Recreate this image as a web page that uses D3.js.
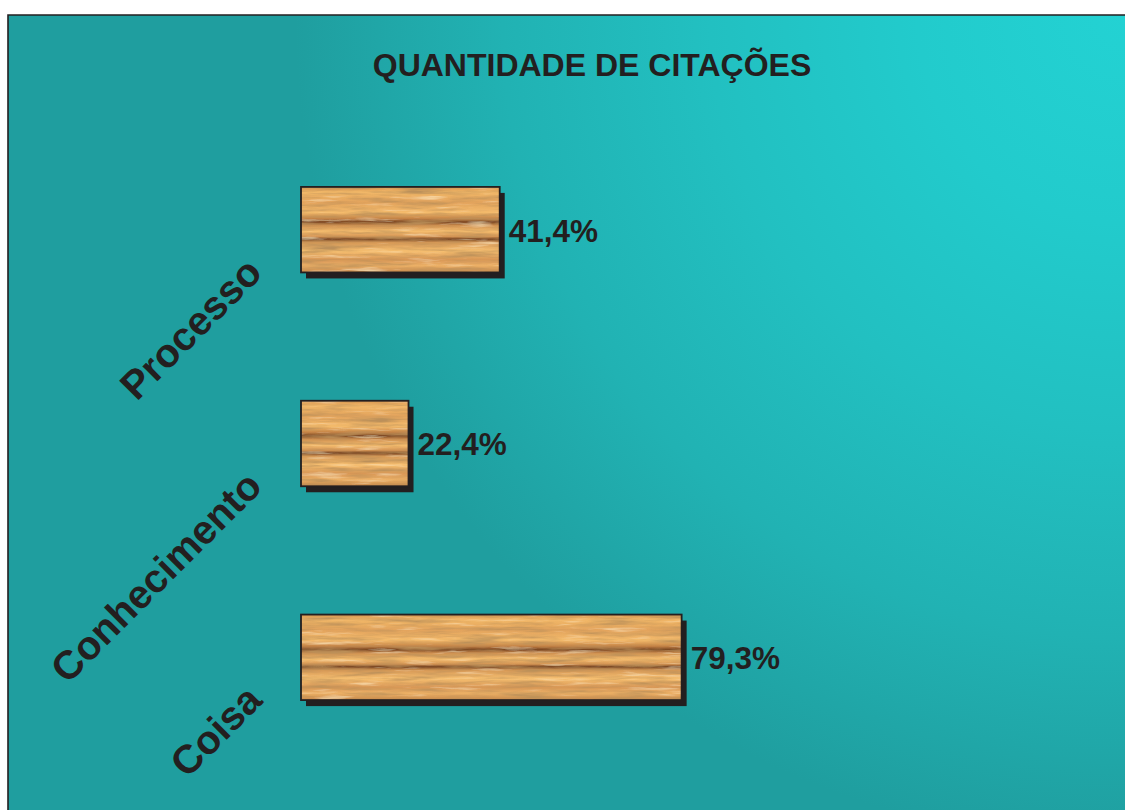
<!DOCTYPE html>
<html>
<head>
<meta charset="utf-8">
<script src="https://cdn.jsdelivr.net/npm/d3@7"></script>
<style>
  html, body { margin: 0; padding: 0; background: #fff; }
  svg { display: block; }
  text { font-family: "Liberation Sans", Arial, sans-serif; font-weight: bold; fill: #231f20; }
</style>
</head>
<body>
<div id="chart"></div>
<script>
const title = 'QUANTIDADE DE CITAÇÕES';
const categories = ['Processo', 'Conhecimento', 'Coisa'];
const values = [41.4, 22.4, 79.3];
const valueLabels = ['41,4%', '22,4%', '79,3%'];

const W = 1125, H = 810;

const svg = d3.select('#chart')
  .append('svg')
  .attr('width', W)
  .attr('height', H);

const defs = svg.append('defs');

// teal background, lighter towards the top right corner
const bg = defs.append('radialGradient')
  .attr('id', 'bgGrad')
  .attr('gradientUnits', 'userSpaceOnUse')
  .attr('cx', 1125).attr('cy', 15).attr('r', 830);
[[0, '#23d2d3'], [0.25, '#22cbcc'], [0.5, '#22c0c1'], [0.75, '#21b2b3'], [0.9, '#20a6a7'], [1, '#1f9e9f']]
  .forEach(([o, c]) => bg.append('stop').attr('offset', o).attr('stop-color', c));

// wood look: bands plus fine noise
const wood = defs.append('linearGradient')
  .attr('id', 'woodGrad')
  .attr('x1', 0).attr('y1', 0).attr('x2', 0).attr('y2', 1);
[[0, '#d69550'], [0.06, '#f2b868'], [0.18, '#e2a35c'], [0.3, '#f4bb6c'], [0.37, '#c48245'],
 [0.41, '#7a4622'], [0.45, '#cf9050'], [0.52, '#f5bd6e'], [0.58, '#d49454'], [0.61, '#764422'],
 [0.65, '#d69856'], [0.75, '#f6bf70'], [0.85, '#d89756'], [0.92, '#ecb066'], [1, '#c6884a']]
  .forEach(([o, c]) => wood.append('stop').attr('offset', o).attr('stop-color', c));

const grain = defs.append('filter')
  .attr('id', 'grain')
  .attr('x', 0).attr('y', 0).attr('width', 1).attr('height', 1);
grain.append('feTurbulence')
  .attr('type', 'fractalNoise')
  .attr('baseFrequency', '0.02 0.22')
  .attr('numOctaves', 4)
  .attr('seed', 7)
  .attr('result', 'noise');
grain.append('feColorMatrix')
  .attr('in', 'noise')
  .attr('type', 'matrix')
  .attr('values', '0 0 0 0 0.5  0 0 0 0 0.28  0 0 0 0 0.1  2.4 0 0 0 -1.05')
  .attr('result', 'dark');
grain.append('feColorMatrix')
  .attr('in', 'noise')
  .attr('type', 'matrix')
  .attr('values', '0 0 0 0 1  0 0 0 0 0.82  0 0 0 0 0.5  -2 0 0 0 0.8')
  .attr('result', 'light');
grain.append('feMerge').call(m => {
  m.append('feMergeNode').attr('in', 'SourceGraphic');
  m.append('feMergeNode').attr('in', 'dark');
  m.append('feMergeNode').attr('in', 'light');
});

// frame
svg.append('rect')
  .attr('x', 8).attr('y', 15)
  .attr('width', W - 8).attr('height', H - 15)
  .attr('fill', 'url(#bgGrad)');
svg.append('path')
  .attr('d', `M8,${H} V15 H${W}`)
  .attr('fill', 'none')
  .attr('stroke', '#231f20')
  .attr('stroke-width', 1.6);

svg.append('text')
  .attr('x', 592)
  .attr('y', 76)
  .attr('text-anchor', 'middle')
  .style('font-size', '32px')
  .text(title);

const x = d3.scaleLinear()
  .domain([0, 100])
  .range([301, 781]);

const y = d3.scaleBand()
  .domain(categories)
  .range([80, 807])
  .paddingInner(0.6)
  .paddingOuter(0.5);

const data = categories.map((c, i) => ({ name: c, value: values[i], label: valueLabels[i] }));

const bars = svg.selectAll('.bar')
  .data(data)
  .enter()
  .append('g')
  .attr('class', 'bar');

bars.append('rect')
  .attr('x', x(0) + 5)
  .attr('y', d => y(d.name) + 6)
  .attr('width', d => x(d.value) - x(0))
  .attr('height', y.bandwidth())
  .attr('fill', '#231f20');

bars.append('rect')
  .attr('x', x(0))
  .attr('y', d => y(d.name))
  .attr('width', d => x(d.value) - x(0))
  .attr('height', y.bandwidth())
  .attr('fill', 'url(#woodGrad)')
  .attr('filter', 'url(#grain)');

bars.append('rect')
  .attr('x', x(0))
  .attr('y', d => y(d.name))
  .attr('width', d => x(d.value) - x(0))
  .attr('height', y.bandwidth())
  .attr('fill', 'none')
  .attr('stroke', '#231f20')
  .attr('stroke-width', 1.8);

bars.append('text')
  .attr('x', d => x(d.value) + 9)
  .attr('y', d => y(d.name) + y.bandwidth() / 2)
  .attr('dy', '0.38em')
  .style('font-size', '31.5px')
  .text(d => d.label);

// slanted category labels
svg.selectAll('.cat')
  .data(data)
  .enter()
  .append('text')
  .attr('class', 'cat')
  .attr('text-anchor', 'end')
  .style('font-size', '40px')
  .attr('transform', d => `translate(${x(0) - 37},${y(d.name) + y.bandwidth() / 2 + 45}) rotate(-45)`)
  .text(d => d.name);
</script>
</body>
</html>
